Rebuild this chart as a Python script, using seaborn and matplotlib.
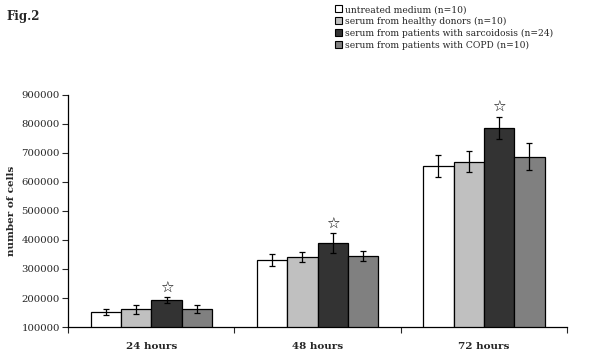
import pandas as pd
import matplotlib
matplotlib.use("Agg")
import matplotlib.pyplot as plt
from matplotlib.patches import Patch
from matplotlib.ticker import FuncFormatter, FixedLocator
import seaborn as sns

# values
times = ['24 hours', '48 hours', '72 hours']
groups = ['untreated medium (n=10)',
          'serum from healthy donors (n=10)',
          'serum from patients with sarcoidosis (n=24)',
          'serum from patients with COPD (n=10)']
untreated = [152000, 331000, 656000]
healthy = [161000, 340000, 670000]
sarcoidosis = [193000, 389000, 787000]
copd = [162000, 344000, 687000]
err_untreated = [10000, 20000, 38000]
err_healthy = [15000, 17000, 36000]
err_sarcoidosis = [11000, 34000, 38000]
err_copd = [13000, 17000, 46000]
starred = 'serum from patients with sarcoidosis (n=24)'

colors = ['#ffffff', '#c0c0c0', '#333333', '#808080']

rows = []
for g, vals, errs in zip(groups,
                         [untreated, healthy, sarcoidosis, copd],
                         [err_untreated, err_healthy, err_sarcoidosis, err_copd]):
    for t, v, e in zip(times, vals, errs):
        rows.append({'time': t, 'group': g, 'cells': v, 'err': e})
df = pd.DataFrame(rows)

sns.set_style('white')
plt.rcParams['font.family'] = ['DejaVu Serif', 'DejaVu Sans']

fig = plt.figure(figsize=(6.09, 3.57), dpi=100)
ax = fig.add_axes([0.112, 0.084, 0.819, 0.650])

sns.barplot(data=df, x='time', y='cells', hue='group', order=times, hue_order=groups,
            palette=colors, edgecolor='black', linewidth=0.9, width=0.73,
            errorbar=None, legend=False, ax=ax)

# error bars and stars from the bar patches
for i, g in enumerate(groups):
    cont = ax.containers[i]
    sub = df[df['group'] == g].set_index('time').loc[times]
    xs = [p.get_x() + p.get_width() / 2 for p in cont.patches]
    ax.errorbar(xs, sub['cells'], yerr=sub['err'], fmt='none', ecolor='black',
                elinewidth=0.9, capsize=2.5, capthick=0.9)
    if g == starred:
        for x, v, e in zip(xs, sub['cells'], sub['err']):
            ax.annotate('\u2606', (x, v + e), xytext=(0, 1), textcoords='offset points',
                        ha='center', va='bottom', fontsize=11, color='black',
                        family=['DejaVu Sans'])

ax.set_ylim(100000, 900000)
ax.set_xlim(-0.5, 2.5)
ax.set_yticks(range(100000, 900001, 100000))
ax.yaxis.set_major_formatter(FuncFormatter(lambda v, p: f'{int(v)}'))
ax.tick_params(axis='y', which='major', left=True, length=4, width=0.8, labelsize=7.3, pad=2)
ax.tick_params(axis='x', which='major', bottom=False, labelsize=7.5, pad=7)
ax.xaxis.set_minor_locator(FixedLocator([-0.5, 0.5, 1.5, 2.5]))
ax.tick_params(axis='x', which='minor', bottom=True, length=4, width=0.8)
for lbl in ax.get_xticklabels():
    lbl.set_fontweight('bold')
ax.set_xlabel('')
ax.set_ylabel('number of cells', fontsize=7.5, fontweight='bold', labelpad=4)

sns.despine(ax=ax)
for s in ['left', 'bottom']:
    ax.spines[s].set_color('black')
    ax.spines[s].set_linewidth(0.9)

handles = [Patch(facecolor=c, edgecolor='black', linewidth=0.8) for c in colors]
fig.legend(handles, groups, loc='upper left', bbox_to_anchor=(0.541, 1.0), frameon=False,
           fontsize=6.6, handlelength=0.8, handleheight=0.8, handletextpad=0.35,
           labelspacing=0.3, borderaxespad=0.15)

fig.text(0.01, 0.955, 'Fig.2', fontsize=8.5, fontweight='bold', va='center')

fig.savefig('out.png', dpi=100)
